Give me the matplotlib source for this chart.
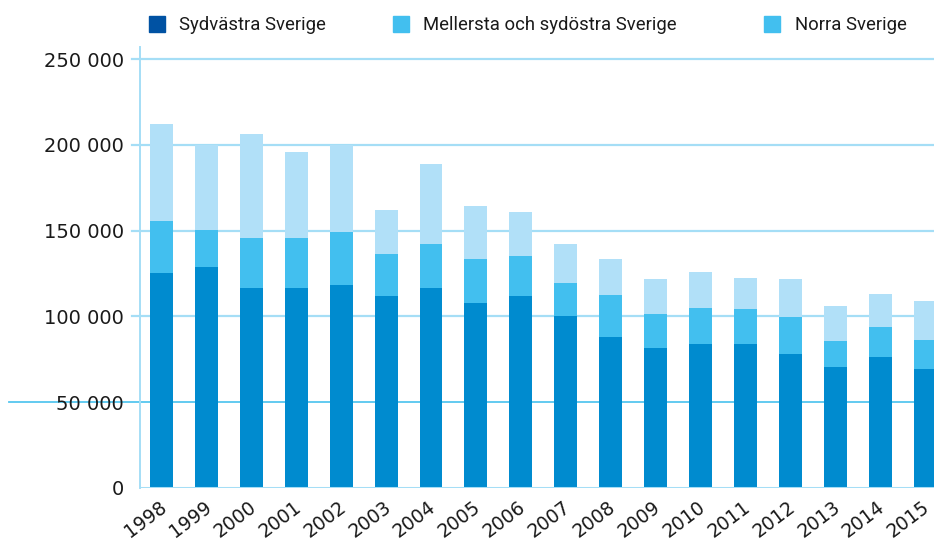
import matplotlib.pyplot as plt
from matplotlib.patches import Rectangle
from matplotlib.transforms import ScaledTranslation
import numpy as np

years = [str(y) for y in range(1998, 2016)]

# stacked segments
sydvastra = [125000, 129000, 116500, 116500, 118000, 112000, 116500, 107500, 112000,
             100000, 88000, 81500, 84000, 84000, 78000, 70500, 76000, 69500]
mellersta = [30500, 21500, 29000, 29000, 31500, 24500, 25500, 26000, 23000,
             19500, 24500, 20000, 21000, 20000, 21500, 15000, 18000, 16500]
norra = [57000, 49500, 61000, 50500, 50500, 25500, 47000, 31000, 26000,
         23000, 21000, 20500, 21000, 18500, 22500, 20500, 19000, 23000]

legend_labels = ['Sydvästra Sverige', 'Mellersta och sydöstra Sverige', 'Norra Sverige']
yticks = [0, 50000, 100000, 150000, 200000, 250000]

c_dark = '#008bcf'
c_mid = '#42bfef'
c_light = '#b1e0f8'
c_grid = '#a5def6'

W, H = 934, 544
fig = plt.figure(figsize=(W / 100, H / 100), dpi=100)
ax = fig.add_axes([140 / W, 1 - 487.7 / H, (W - 140) / W, (487.7 - 46.7) / H])

x = np.arange(len(years))
syd = np.array(sydvastra)
mel = np.array(mellersta)
nor = np.array(norra)
ax.bar(x, syd, width=0.51, color=c_dark, zorder=2)
ax.bar(x, mel, width=0.51, bottom=syd, color=c_mid, zorder=2)
ax.bar(x, nor, width=0.51, bottom=syd + mel, color=c_light, zorder=2)

ax.set_xlim(-0.48, 17.2)
ax.set_ylim(0, 257350)

# gridlines, a bit outside the axis on the left
for v in yticks[1:]:
    if v == 50000:
        ax.axhline(v, xmin=-0.165, xmax=1, color='#55c6ef', lw=1.3, zorder=1, clip_on=False)
    else:
        ax.axhline(v, xmin=-0.01, xmax=1, color=c_grid, lw=1.6, zorder=1, clip_on=False)
ax.axhline(0, color=c_grid, lw=2.2, zorder=3)

for s in ['top', 'right', 'bottom']:
    ax.spines[s].set_visible(False)
ax.spines['left'].set_color(c_grid)
ax.spines['left'].set_linewidth(1.4)

ax.set_yticks(yticks)
ax.set_yticklabels([f'{v:,}'.replace(',', ' ') for v in yticks])
ax.tick_params(axis='y', length=0, pad=11.5, labelsize=14, labelcolor='#1a1a1a')
ax.set_xticks(x)
ax.set_xticklabels(years, rotation=37, ha='right', rotation_mode='anchor')
ax.tick_params(axis='x', length=0, pad=7, labelsize=13.5, labelcolor='#1a1a1a')
shift = ScaledTranslation(-3 / 100, 0, fig.dpi_scale_trans)
for lbl in ax.get_xticklabels():
    lbl.set_transform(lbl.get_transform() + shift)

# legend drawn by hand at the top
leg_colors = ['#0052a3', c_mid, c_mid]
leg_sq = [149, 393, 764]
leg_tx = [179, 423, 795]
for lab, col, sx, tx in zip(legend_labels, leg_colors, leg_sq, leg_tx):
    fig.patches.append(Rectangle((sx / W, 1 - 32 / H), 16 / W, 16 / H,
                                 transform=fig.transFigure, color=col))
    fig.text(tx / W, 1 - 24.5 / H, lab, fontsize=13.3, family='Roboto',
             color='#1a1a1a', va='center', ha='left')

fig.savefig('out.png', dpi=100)
